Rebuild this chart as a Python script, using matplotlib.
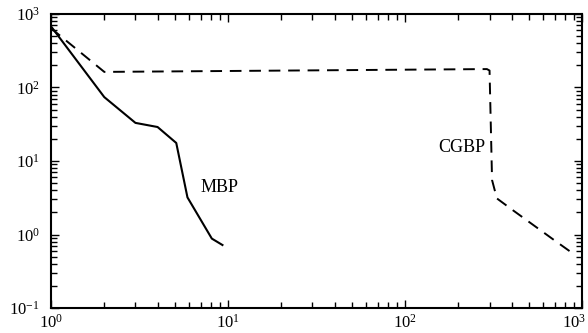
import numpy as np
import matplotlib
matplotlib.use("Agg")
import matplotlib.pyplot as plt
import matplotlib.transforms as mtransforms
from matplotlib.ticker import LogLocator, LogFormatterMathtext, NullFormatter

plt.rcParams['font.family'] = ['Liberation Serif', 'DejaVu Serif']
plt.rcParams['mathtext.fontset'] = 'custom'
plt.rcParams['mathtext.rm'] = 'Liberation Serif'
plt.rcParams['axes.unicode_minus'] = False

# MBP (solid) curve values
mbp_x = [1, 2, 3, 4, 5.1, 5.9, 8.1, 9.3]
mbp_y = [680, 74, 33, 29, 17.6, 3.2, 0.88, 0.72]

# CGBP (dashed) curve values
cgbp_x = [1, 2, 290, 300, 310, 330, 400, 690, 880]
cgbp_y = [640, 163, 178, 170, 5.5, 3.1, 2.2, 0.85, 0.56]

fig = plt.figure(figsize=(5.88, 3.33), dpi=100)
ax = fig.add_axes([0.0867, 0.075, 0.9033, 0.883])

ax.plot(mbp_x, mbp_y, color='black', lw=1.5)
ax.plot(cgbp_x, cgbp_y, color='black', lw=1.4, dashes=(6, 4))

ax.set_xscale('log')
ax.set_yscale('log')
ax.set_xlim(1, 1000)
ax.set_ylim(0.1, 1000)

for axis in (ax.xaxis, ax.yaxis):
    axis.set_major_locator(LogLocator(base=10))
    axis.set_minor_locator(LogLocator(base=10, subs=np.arange(2, 10)))
    axis.set_major_formatter(LogFormatterMathtext())
    axis.set_minor_formatter(NullFormatter())

ax.tick_params(which='both', direction='in', top=True, right=True, width=1.0)
ax.tick_params(which='major', length=6, labelsize=12)
ax.tick_params(which='minor', length=4)
ax.tick_params(axis='y', pad=8)
ax.tick_params(axis='x', pad=4)

for sp in ax.spines.values():
    sp.set_linewidth(1.5)

ax.text(7.0, 4.3, 'MBP', fontsize=13, ha='left', va='center')
ax.text(285, 15.5, 'CGBP', fontsize=13, ha='right', va='center')

# keep the last x label inside the figure
fig.canvas.draw()
last = ax.get_xticklabels()[-1]
for lbl in ax.get_xticklabels():
    if lbl.get_position()[0] >= 999:
        lbl.set_transform(lbl.get_transform() +
                          mtransforms.ScaledTranslation(-6 / 72, 0, fig.dpi_scale_trans))

fig.savefig('out.png', dpi=100)
